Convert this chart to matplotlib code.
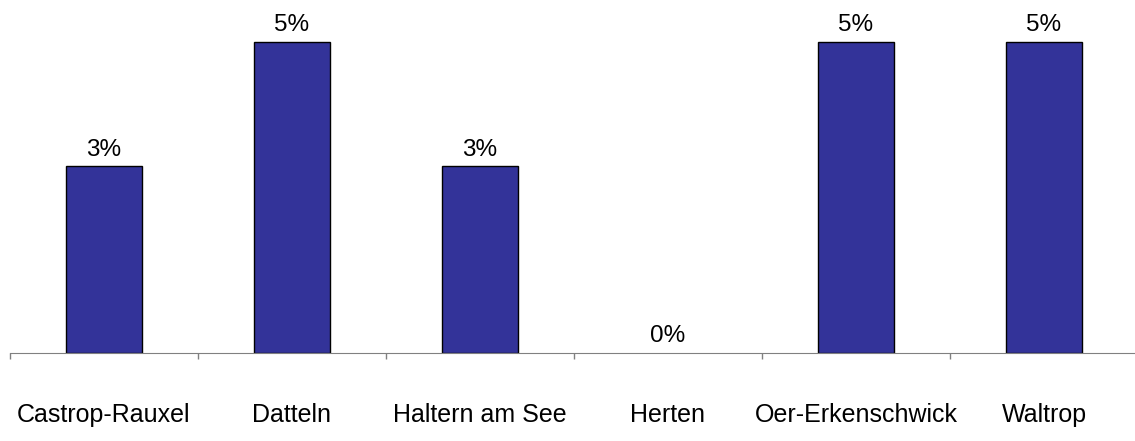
import matplotlib.pyplot as plt
import numpy as np

# data
cities = ['Castrop-Rauxel', 'Datteln', 'Haltern am See', 'Herten',
          'Oer-Erkenschwick', 'Waltrop']
values = [3, 5, 3, 0, 5, 5]
labels = ['3%', '5%', '3%', '0%', '5%', '5%']

plt.rcParams['font.family'] = ['Liberation Sans', 'DejaVu Sans']

fig = plt.figure(figsize=(11.35, 4.41), dpi=100)
ax = fig.add_axes([10/1135, 88/441, 1128/1135, 353/441])

x = np.arange(len(cities))
lw = [1 if v > 0 else 0 for v in values]
ax.bar(x, values, width=0.405, color='#333399', edgecolor='black', linewidth=lw)

for xi, v, lab in zip(x, values, labels):
    ax.annotate(lab, (xi, v), xytext=(0, 4), textcoords='offset points',
                ha='center', va='bottom', fontsize=17.5)

ax.set_xlim(-0.5, len(cities) - 0.5)
ax.set_ylim(0, 5.675)

ax.set_xticks(x)
ax.set_xticklabels(cities, fontsize=18)
ax.tick_params(axis='x', which='major', length=0, pad=36)
ax.set_xticks(np.arange(-0.5, len(cities), 1), minor=True)
ax.tick_params(axis='x', which='minor', length=4, color='#808080', width=1)

ax.set_yticks([])
for s in ['top', 'right', 'left']:
    ax.spines[s].set_visible(False)
ax.spines['bottom'].set_color('#808080')

fig.savefig('out.png', dpi=100)
